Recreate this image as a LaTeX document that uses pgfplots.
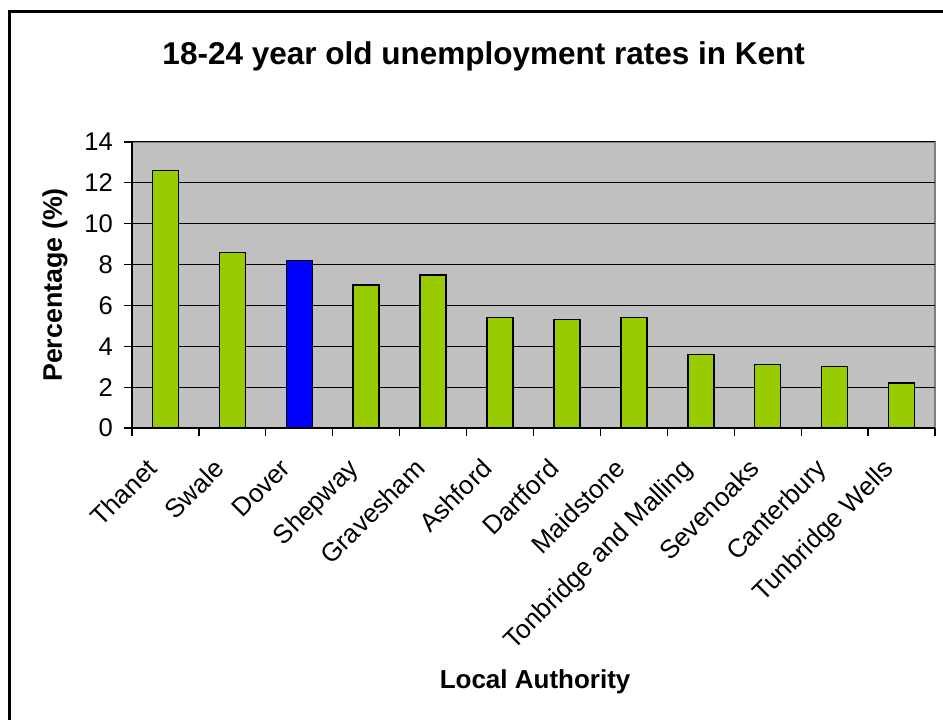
\documentclass[border=0pt]{standalone}
\usepackage{fontspec}
\setmainfont{Liberation Sans}
\usepackage{pgfplots}
\pgfplotsset{compat=1.18}
\definecolor{barGreen}{HTML}{99CC00}
\definecolor{plotGray}{HTML}{C0C0C0}
\definecolor{doverBlue}{HTML}{0000FF}

% unemployment rate (%) by local authority, 0 = Thanet ... 11 = Tunbridge Wells
\pgfplotstableread{
x rate
0 12.6
1 8.6
3 7.0
4 7.5
5 5.4
6 5.3
7 5.4
8 3.6
9 3.1
10 3.0
11 2.2
}\greendata
\pgfplotstableread{
x rate
2 8.2
}\bluedata

\begin{document}
\begin{tikzpicture}
\useasboundingbox (-66bp,-146bp) rectangle (405.5bp,214bp);
% frame: only left and top edges are visible in the original
\draw[line width=1.5bp] (-61bp,-150bp) -- (-61bp,208bp) -- (410bp,208bp);
\begin{axis}[
  at={(0,0)}, anchor=south west,
  scale only axis,
  width=401.5bp, height=143bp,
  xmin=-0.5, xmax=11.5,
  ymin=0, ymax=14,
  ytick={0,2,...,14},
  xtick={0,...,11},
  xticklabels={Thanet,Swale,Dover,Shepway,Gravesham,Ashford,Dartford,Maidstone,Tonbridge and Malling,Sevenoaks,Canterbury,Tunbridge Wells},
  minor xtick={-0.5,0.5,...,11.5},
  major x tick style={draw=none},
  minor x tick style={black, line width=0.6bp},
  major y tick style={black, line width=0.6bp},
  tick align=outside,
  major tick length=4bp, minor tick length=4bp,
  axis x line*=bottom, axis y line*=left,
  axis line style={black, line width=0.6bp},
  axis background/.style={fill=plotGray, draw=gray, line width=0.6bp},
  ymajorgrids,
  grid style={black, line width=0.5bp},
  /pgf/number format/assume math mode=true,
  yticklabel style={font=\fontsize{12.8bp}{15bp}\selectfont, xshift=-2bp},
  xticklabel style={font=\fontsize{13bp}{15bp}\selectfont, xshift=-10bp, yshift=-7.5bp, rotate=45, anchor=north east, inner sep=2bp},
  title={18-24 year old unemployment rates in Kent},
  title style={font=\bfseries\fontsize{15.75bp}{18bp}\selectfont, at={(rel axis cs:0.438,1.259)}, anchor=center},
  ylabel={Percentage (\%)},
  ylabel style={font=\bfseries\fontsize{13.4bp}{16bp}\selectfont, at={(rel axis cs:-0.096,0.5)}, anchor=center},
  xlabel={Local Authority},
  xlabel style={font=\bfseries\fontsize{13bp}{16bp}\selectfont, at={(rel axis cs:0.502,-0.888)}, anchor=center},
  ybar, bar width=13bp,
]
\addplot[bar shift=0pt, fill=barGreen, draw=black, line width=0.75bp] table[x=x, y=rate] {\greendata};
\addplot[bar shift=0pt, fill=doverBlue, draw=black, line width=0.75bp] table[x=x, y=rate] {\bluedata};
\end{axis}
\end{tikzpicture}
\end{document}
